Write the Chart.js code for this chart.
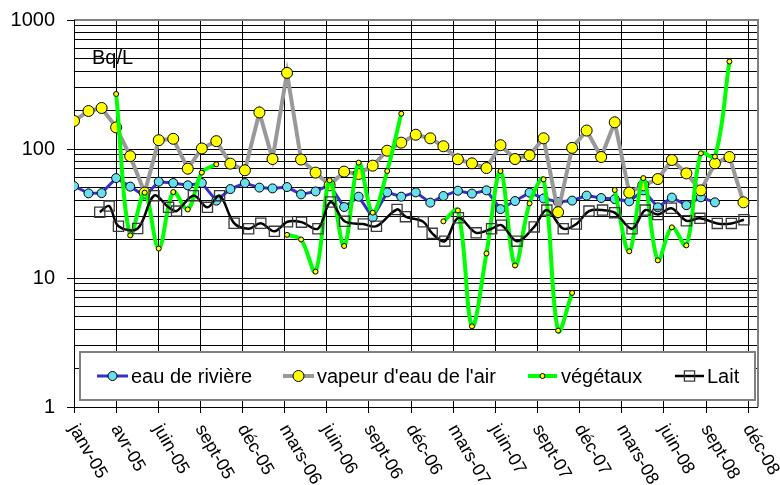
<!DOCTYPE html>
<html><head><meta charset="utf-8">
<script src="https://cdn.jsdelivr.net/npm/chart.js@4/dist/chart.umd.min.js"></script>
<style>html,body{margin:0;padding:0;background:#fff}#wrap{width:780px;height:485px;position:relative}</style>
</head><body><div id="wrap"><canvas id="c" width="780" height="485"></canvas></div>
<script>
// ---------- DATA ----------
const months = [
 "2005-01-01","2005-02-01","2005-03-01","2005-04-01","2005-05-01","2005-06-01","2005-07-01","2005-08-01","2005-09-01","2005-10-01","2005-11-01","2005-12-01",
 "2006-01-01","2006-02-01","2006-03-01","2006-04-01","2006-05-01","2006-06-01","2006-07-01","2006-08-01","2006-09-01","2006-10-01","2006-11-01","2006-12-01",
 "2007-01-01","2007-02-01","2007-03-01","2007-04-01","2007-05-01","2007-06-01","2007-07-01","2007-08-01","2007-09-01","2007-10-01","2007-11-01","2007-12-01",
 "2008-01-01","2008-02-01","2008-03-01","2008-04-01","2008-05-01","2008-06-01","2008-07-01","2008-08-01","2008-09-01","2008-10-01","2008-11-01","2008-12-01"];

const riverValues = [51.6,45.3,45.5,59.5,51.1,43.2,55.8,54.5,52.3,54.5,39.8,48.9,
 54.5,50.2,49.5,50.7,44.5,46.9,52.6,35.5,42.7,29.5,46.1,42.7,
 46.1,38.4,43.2,47.5,45.1,47.8,34.2,39.5,45.9,41.4,38.8,39.8,
 43.5,41.7,40.9,39.3,47.8,35.3,42.0,36.7,42.2,38.6,null,null];

const vapourValues = [165,197,208,147,88,45.9,117,120,70.4,101,115,77,
 68.4,192,83.6,389,82.8,65.6,52.3,66.8,64,74.3,97,112,
 129,121,105,83.2,77.4,71.2,107,83.6,89.3,121,32.4,102,
 139,86.7,161,45.9,52.3,58.5,82.2,64.7,47.8,77.4,86.7,38.6];

const vegValues = [null,null,null,267,21.4,45.9,16.9,46.4,34,65.6,76.1,null,
 null,null,null,21.6,19.9,11.2,57.2,17.7,78.4,32.1,67.5,188,
 null,null,27.5,33.4,4.22,15.5,67.5,12.5,37.9,58.2,3.91,7.67,
 null,null,48.1,16.1,59.5,13.7,24.7,17.9,92.6,87.3,477,null];

const laitDates = ["2005-02-25","2005-03-17","2005-04-06","2005-05-17","2005-06-21","2005-07-22","2005-08-08","2005-09-13","2005-10-13","2005-11-08","2005-12-09",
 "2006-01-09","2006-02-04","2006-03-05","2006-04-02","2006-05-02","2006-06-06","2006-07-03","2006-08-02","2006-09-11","2006-10-09","2006-11-22","2006-12-10",
 "2007-01-17","2007-02-05","2007-03-04","2007-04-02","2007-05-10","2007-06-12","2007-07-03","2007-08-05","2007-09-11","2007-10-08","2007-11-12","2007-12-10",
 "2008-01-06","2008-02-04","2008-03-01","2008-04-07","2008-05-05","2008-06-01","2008-06-30","2008-08-01","2008-08-30","2008-10-06","2008-11-05","2008-12-02"];
const laitValues = [32.4,36.1,25.2,24.2,43.5,35.3,33,43.5,35.3,43.5,26.6,
 24.1,26.6,23,27.3,27.1,24.1,38.8,27.5,26.2,25.2,34,29.9,
 27.3,22.2,19.3,29.3,22.4,24.1,25.7,19.3,24.9,33.6,24.1,26.2,
 33,33.6,32.1,24.1,33.6,31,34.7,27.8,29,26.5,26.5,28.3];

const seriesNames = ["eau de rivière","vapeur d'eau de l'air","végétaux","Lait"];
const xTickLabels = ["janv-05","avr-05","juin-05","sept-05","déc-05","mars-06","juin-06","sept-06","déc-06","mars-07","juin-07","sept-07","déc-07","mars-08","juin-08","sept-08","déc-08"];
const xTickStepDays = 90;
const xStart = "2005-01-01", xEnd = "2009-01-01";
const yTickLabels = ["1","10","100","1000"];
const unitLabel = "Bq/L";

// ---------- helpers ----------
const FONT = "'Liberation Sans', Arial, sans-serif";
const t0 = Date.UTC(2005,0,1);
function dayOf(s){const p=s.split('-').map(Number);return (Date.UTC(p[0],p[1]-1,p[2])-t0)/86400000;}
function pts(dates, vals){return dates.map((d,i)=>({x:dayOf(d), y: vals[i]==null?null:vals[i]}));}

const yGrid=[];
for(let e=0;e<3;e++){for(let k=1;k<10;k++){yGrid.push(k*Math.pow(10,e));}}
yGrid.push(1000);

const styles = [
 {line:'#3333CC', lw:3, ps:'circle', pr:4.5, pbg:'#66E0EE', pbc:'#000', pbw:1},
 {line:'#999999', lw:4, ps:'circle', pr:5.5, pbg:'#FFFF00', pbc:'#000', pbw:1},
 {line:'#00FF00', lw:4, ps:'circle', pr:2.5, pbg:'#FFFF00', pbc:'#000', pbw:1},
 {line:'#000000', lw:2.5, ps:'rect', pr:7.2, pbg:'rgba(0,0,0,0)', pbc:'#3a3a3a', pbw:1.3}
];

function ds(i, data, tension, order){
 const s=styles[i];
 return {label:seriesNames[i], data, borderColor:s.line, borderWidth:s.lw, pointStyle:s.ps, pointRadius:s.pr,
  pointBackgroundColor:s.pbg, pointBorderColor:s.pbc, pointBorderWidth:s.pbw, tension, cubicInterpolationMode:'default',
  spanGaps:false, fill:false, order};
}

const framePlugin = {
 id:'frame',
 beforeDatasetsDraw(chart){
  const {ctx, chartArea:a} = chart;
  ctx.save();
  ctx.strokeStyle='#808080'; ctx.lineWidth=2;
  ctx.beginPath(); ctx.moveTo(a.left, a.top); ctx.lineTo(a.right, a.top); ctx.lineTo(a.right, a.bottom); ctx.stroke();
  ctx.strokeStyle='#000'; ctx.lineWidth=1;
  ctx.beginPath(); ctx.moveTo(a.left+0.5, a.top); ctx.lineTo(a.left+0.5, a.bottom+0.5); ctx.lineTo(a.right, a.bottom+0.5); ctx.stroke();
  ctx.restore();
 },
 afterDraw(chart){
  const {ctx, chartArea:a} = chart;
  const xs = chart.scales.x;
  ctx.save();
  // unit
  ctx.fillStyle='#000'; ctx.font='20px '+FONT; ctx.textAlign='left'; ctx.textBaseline='alphabetic';
  ctx.fillText(unitLabel, a.left+18, 64);
  // x labels rotated
  const ang = 60*Math.PI/180;
  ctx.font='18px '+FONT;
  xTickLabels.forEach((lab,i)=>{
   const x = xs.getPixelForValue(i*xTickStepDays);
   ctx.save(); ctx.translate(x-1, a.bottom+19); ctx.rotate(ang);
   ctx.textAlign='left'; ctx.textBaseline='middle'; ctx.fillText(lab, 0, 0);
   ctx.restore();
  });
  // legend
  const L=a.left+6, T=352, R=755, B=400, cy=376;
  ctx.fillStyle='#fff'; ctx.fillRect(L,T,R-L,B-T);
  ctx.strokeStyle='#808080'; ctx.lineWidth=2; ctx.strokeRect(L,T,R-L,B-T);
  const items=[{x0:97,x1:128,tx:131},{x0:283,x1:314,tx:317},{x0:528,x1:557,tx:561},{x0:675,x1:704,tx:707}];
  items.forEach((it,i)=>{
   const s=styles[i];
   ctx.strokeStyle=s.line; ctx.lineWidth=s.lw;
   ctx.beginPath(); ctx.moveTo(it.x0,cy); ctx.lineTo(it.x1,cy); ctx.stroke();
   ctx.fillStyle=s.pbg; ctx.strokeStyle=s.pbc; ctx.lineWidth=s.pbw;
   ctx.beginPath();
   if(s.ps==='circle'){ctx.arc((it.x0+it.x1)/2,cy,s.pr,0,Math.PI*2);} else {const h=s.pr*Math.SQRT1_2; ctx.rect((it.x0+it.x1)/2-h,cy-h,2*h,2*h);}
   ctx.fill(); ctx.stroke();
   ctx.fillStyle='#000'; ctx.font='20px '+FONT; ctx.textAlign='left'; ctx.textBaseline='middle';
   ctx.fillText(seriesNames[i], it.tx, cy+1);
  });
  ctx.restore();
 }
};

new Chart(document.getElementById('c'), {
 type:'line',
 data:{datasets:[
  ds(0, pts(months, riverValues), 0, 4),
  ds(1, pts(months, vapourValues), 0, 3),
  ds(2, pts(months, vegValues), 0.35, 2),
  ds(3, pts(laitDates, laitValues), 0.35, 1)
 ]},
 options:{
  responsive:false, animation:false, devicePixelRatio:1,
  layout:{padding:{top:20,right:22,left:0,bottom:0}},
  plugins:{legend:{display:false}, tooltip:{enabled:false}},
  scales:{
   x:{type:'linear', min:dayOf(xStart), max:dayOf(xEnd),
    afterBuildTicks:s=>{s.ticks = xTickLabels.map((l,i)=>({value:i*xTickStepDays}));},
    afterFit:s=>{s.height=78; s.paddingLeft=0; s.paddingRight=0;},
    ticks:{display:false},
    grid:{color:'#000', lineWidth:1, tickLength:6, tickColor:'#000'},
    border:{display:false}
   },
   y:{type:'logarithmic', min:1, max:1000,
    afterBuildTicks:s=>{s.ticks = yGrid.map(v=>({value:v}));},
    afterFit:s=>{s.width=74; s.paddingTop=0; s.paddingBottom=0;},
    ticks:{autoSkip:false, padding:12, color:'#000', font:{family:FONT, size:20},
     callback:(v)=>{const str=String(v); return yTickLabels.includes(str)?str:'';}},
    grid:{color:'#000', lineWidth:1, tickLength:7,
     tickColor:(c)=> (c.tick && yTickLabels.includes(String(c.tick.value)))?'#000':'rgba(0,0,0,0)'},
    border:{display:false}
   }
  }
 },
 plugins:[framePlugin]
});
</script></body></html>
